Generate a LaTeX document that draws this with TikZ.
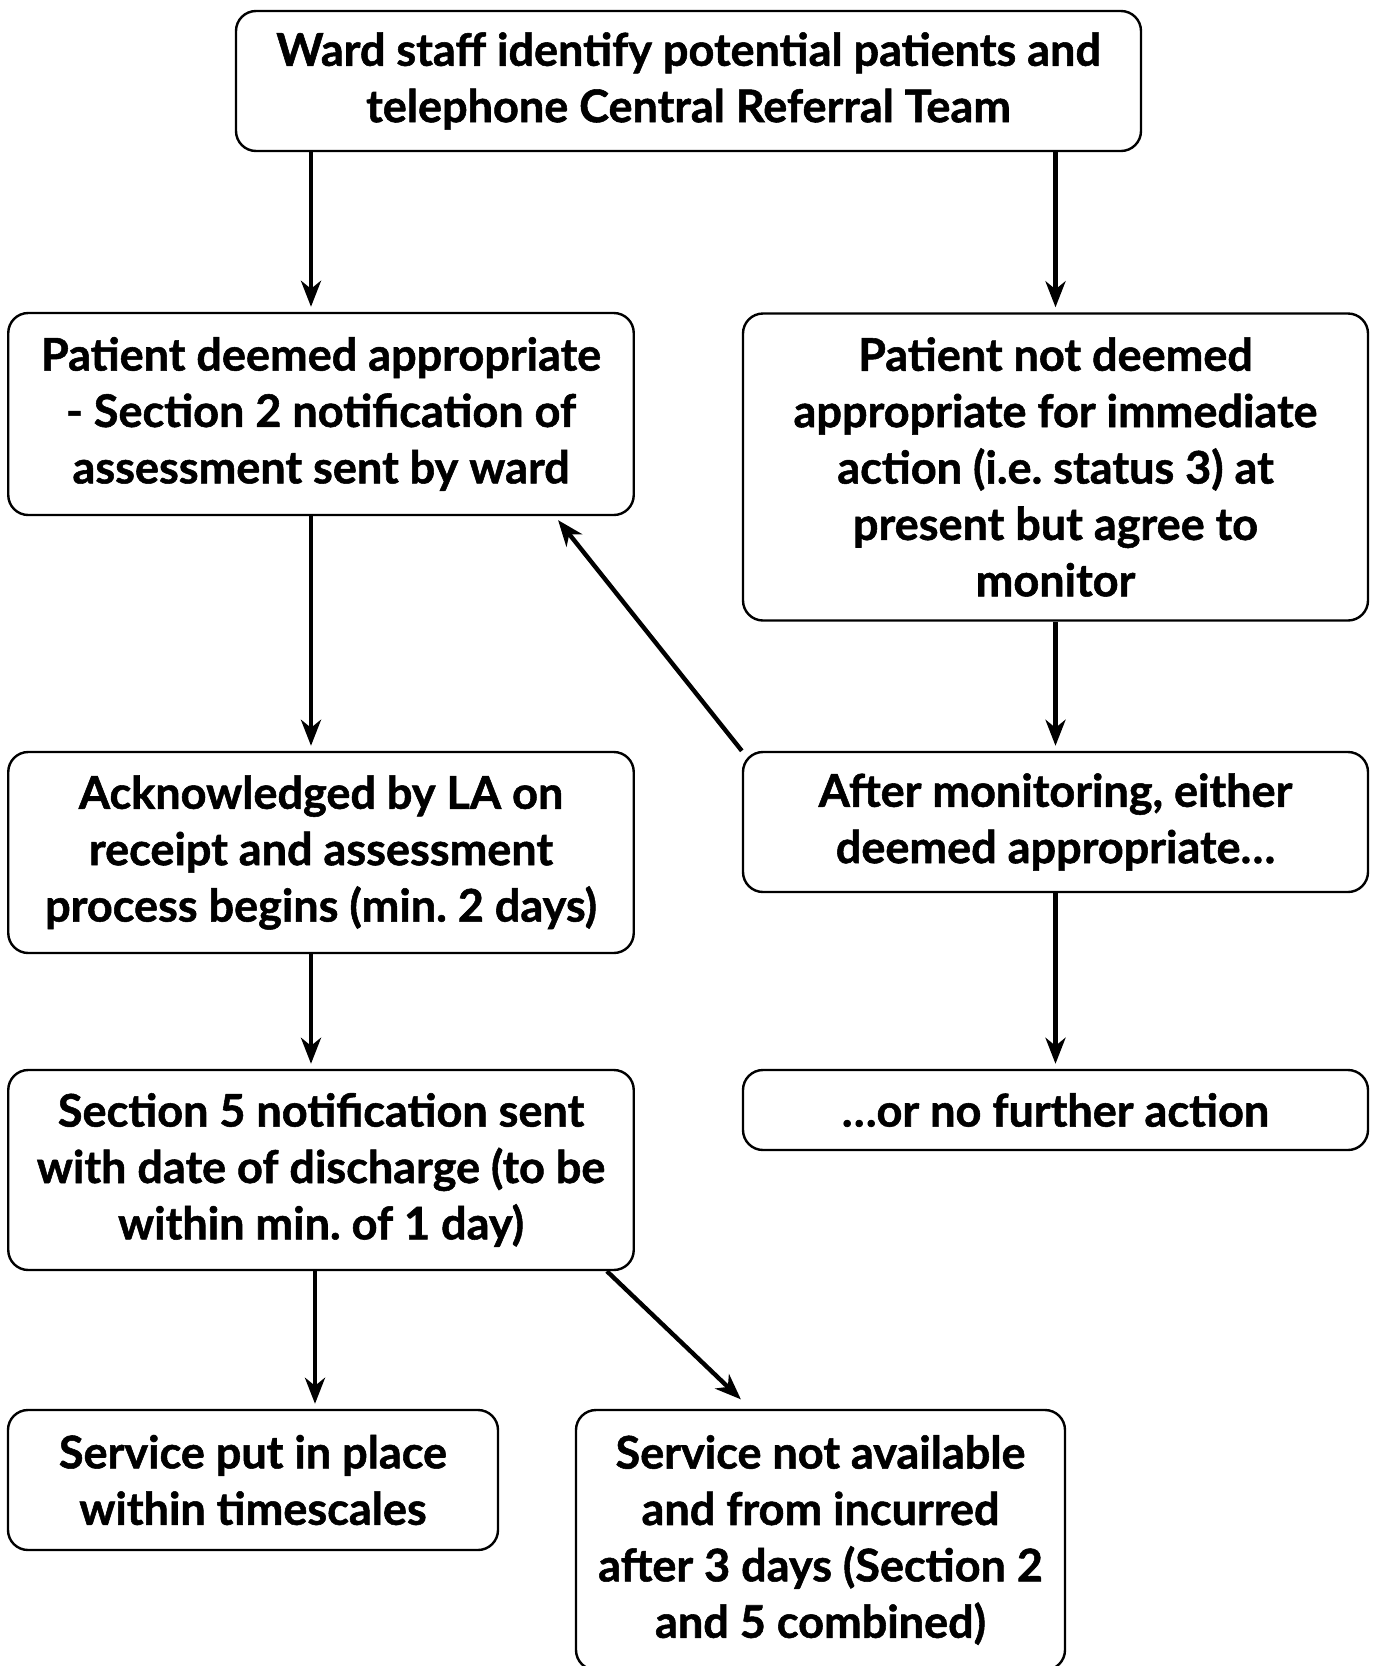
\documentclass[tikz,border=0pt]{standalone}
\usepackage{fontspec}
\setmainfont{Lato}[BoldFeatures={FakeBold=1.2}]
\usepackage{tikz}
\usetikzlibrary{positioning, arrows.meta}

\tikzset{
  stage/.style={draw, line width=1.2pt, rounded corners=10pt, align=center,
    font=\fontsize{22.5}{28.2}\selectfont\bfseries\frenchspacing, inner sep=2pt},
  flow/.style={-{Stealth[length=13pt,width=10pt,inset=4pt]}, line width=2.2pt, shorten >=2.5pt}
}

\begin{document}
\begin{tikzpicture}[x=0.5pt, y=-0.5pt]
      \useasboundingbox (0,0) rectangle (1377,1666);

      % Top
      \node[stage, minimum width=452.5pt, minimum height=70pt] (ward) at (688.5,81)
        {Ward staff identify potential patients and\\telephone Central Referral Team};

      % Left column
      \node[stage, minimum width=312.75pt, minimum height=101pt] (approp) at (321,414)
        {Patient deemed appropriate\\- Section 2 notification of\\assessment sent by ward};
      \node[stage, minimum width=312.75pt, minimum height=100.5pt] (ackn) at (321,852.5)
        {Acknowledged by LA on\\receipt and assessment\\process begins (min. 2 days)};
      \node[stage, minimum width=312.75pt, minimum height=100pt] (sec5) at (321,1170)
        {Section 5 notification sent\\with date of discharge (to be\\within min. of 1 day)};

      % Right column
      \node[stage, minimum width=312.5pt, minimum height=153.5pt] (notapp) at (1055.5,467)
        {Patient not deemed\\appropriate for immediate\\action (i.e. status 3) at\\present but agree to\\monitor};
      \node[stage, minimum width=312.5pt, minimum height=70pt] (monit) at (1055.5,822)
        {After monitoring, either\\deemed appropriate\dots};
      \node[stage, minimum width=312.5pt, minimum height=40pt] (noact) at (1055.5,1110)
        {\dots or no further action};

      % Bottom row
      \node[stage, minimum width=245pt, minimum height=70pt] (inplace) at (253,1480)
        {Service put in place\\within timescales};
      \node[stage, minimum width=244.5pt, minimum height=130pt] (notavail) at (820.5,1540)
        {Service not available\\and from incurred\\after 3 days (Section 2\\and 5 combined)};

      % Arrows
      \draw[flow] ([xshift=-5pt]approp.north |- ward.south) -- ([xshift=-5pt]approp.north);
      \draw[flow] (notapp.north |- ward.south) -- (notapp.north);
      \draw[flow] ([xshift=-5pt]approp.south) -- ([xshift=-5pt]ackn.north);
      \draw[flow] (notapp.south) -- (monit.north);
      \draw[flow] (monit.north west) -- ([xshift=-40pt]approp.south east);
      \draw[flow] ([xshift=-5pt]ackn.south) -- ([xshift=-5pt]sec5.north);
      \draw[flow] (monit.south) -- (noact.north);
      \draw[flow] ([xshift=-3pt]sec5.south) -- ([xshift=-3pt]sec5.south |- inplace.north);
      \draw[flow] ([xshift=-14pt]sec5.south east) -- ([xshift=-38pt,yshift=3pt]notavail.north);
\end{tikzpicture}
\end{document}
